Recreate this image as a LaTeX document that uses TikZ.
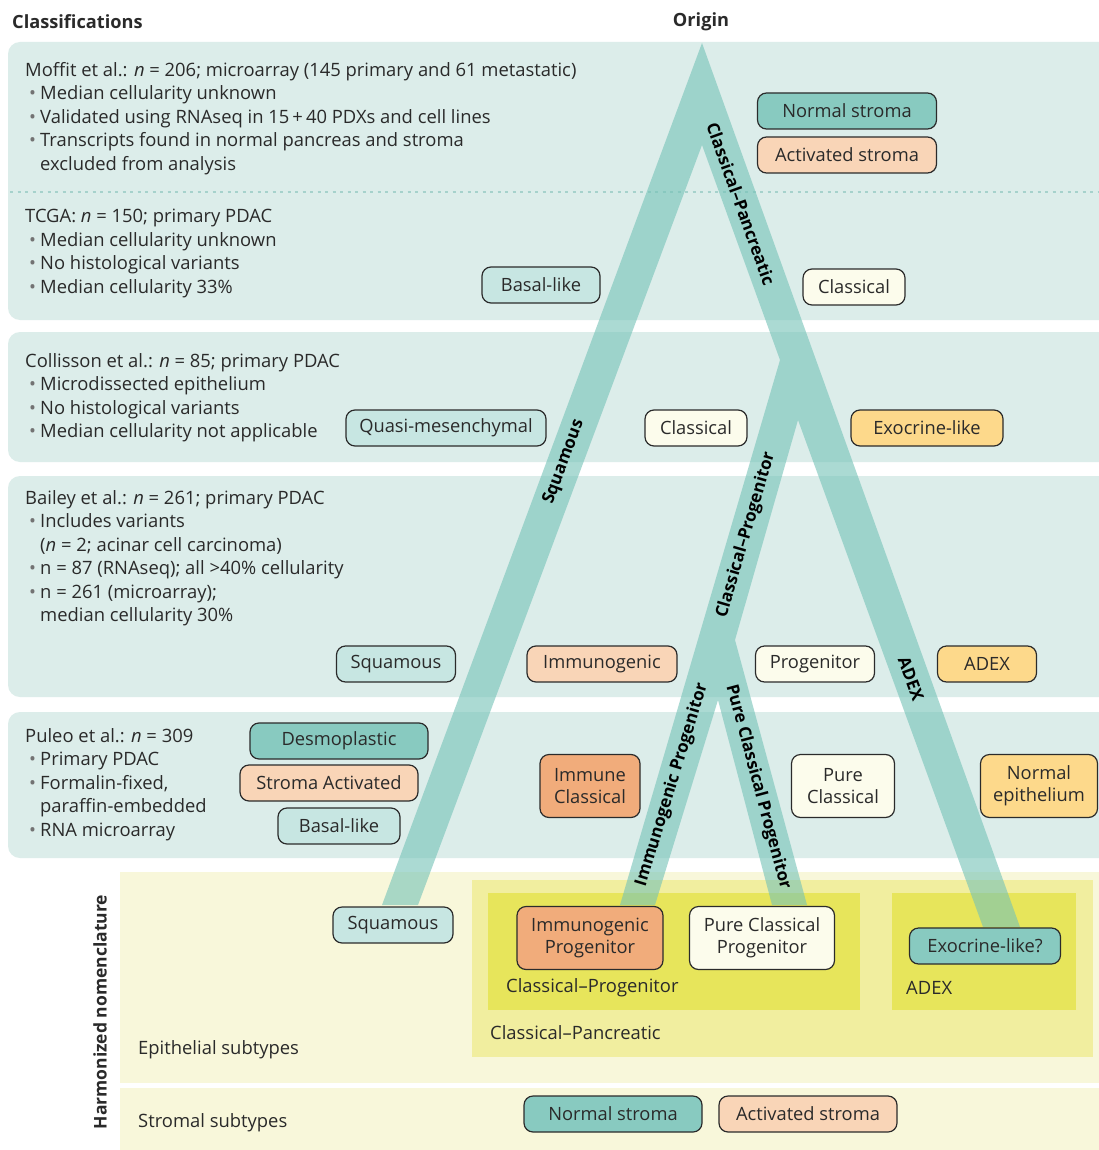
\documentclass[tikz,border=0pt]{standalone}
\usepackage{fontspec}
\setmainfont{Open Sans}
\definecolor{panelc}{HTML}{DCEDEA}
\definecolor{dotc}{HTML}{A6D2CC}
\definecolor{bandc}{HTML}{74C2B7}
\definecolor{cpale}{HTML}{F8F7DA}
\definecolor{cmid}{HTML}{F1EE9F}
\definecolor{cbright}{HTML}{E7E55B}
\definecolor{cteal}{HTML}{88CAC0}
\definecolor{clteal}{HTML}{C7E6E2}
\definecolor{cpeach}{HTML}{F9D5B7}
\definecolor{corange}{HTML}{F1AC7B}
\definecolor{ccream}{HTML}{FCFCEC}
\definecolor{cgold}{HTML}{FDD98B}
\definecolor{txtc}{HTML}{2A2A2A}
\definecolor{linec}{HTML}{2B2B2B}
\newcommand\fs{\fontsize{18.4}{23.5}\selectfont}
\newcommand\bul{\makebox[15pt][c]{\color{black!55}\textbullet}}
\newcommand\ind{\hspace*{15pt}}
\begin{document}
\begin{tikzpicture}[x=1pt,y=-1pt,
  txt/.style={anchor=north west, align=left, inner sep=0pt, font=\fs, text=txtc},
  lab/.style={anchor=west, inner sep=0pt, font=\fs, text=txtc},
  box/.style={draw=linec, line width=1.2pt, rounded corners=9pt, minimum height=36pt,
    inner xsep=4pt, inner ysep=2pt, font=\fontsize{18.3}{22}\selectfont, text=txtc, align=center},
  bandlab/.style={inner sep=0pt, font=\fontsize{17}{18}\selectfont\bfseries, text=black}]
\useasboundingbox (0,0) rectangle (1099,1150);
\fill[white] (0,0) rectangle (1099,1150);
% panels
\begin{scope}
\clip (0,0) rectangle (1099,1150);
\fill[panelc, rounded corners=12pt] (8,42) rectangle (1120,320);
\fill[panelc, rounded corners=12pt] (8,332) rectangle (1120,462);
\fill[panelc, rounded corners=12pt] (8,476) rectangle (1120,697);
\fill[panelc, rounded corners=12pt] (8,712) rectangle (1120,858);
\end{scope}
\draw[dotc, line width=2pt, dash pattern=on 3pt off 4.5pt] (10,192) -- (1099,192);
% harmonized section
\fill[cpale] (120,872) rectangle (1099,1083);
\fill[cpale] (120,1088) rectangle (1099,1150);
\fill[cmid] (472,880) rectangle (1093,1057);
\fill[cbright] (488,893) rectangle (860,1010);
\fill[cbright] (892,893) rectangle (1076,1010);
% tree bands
\fill[bandc, fill opacity=0.6] (702,43) -- (1020,927) -- (983,927) -- (798,420) -- (735,640)
  -- (807,905) -- (772,905) -- (718,700) -- (655,905) -- (620,905) -- (780,360) -- (702,145)
  -- (418,905) -- (382,905) -- cycle;
% band labels
\node[bandlab, rotate=-70.2] (lcp) at (741,204) {Classical–Pancreatic};
\node[bandlab, rotate=69.6] (lsq) at (564,462) {Squamous};
\node[bandlab, rotate=73.6] (lcprog) at (746,535) {Classical–Progenitor};
\node[bandlab, rotate=73] (lip) at (672,785) {Immunogenic Progenitor};
\node[bandlab, rotate=-75] (lpcp) at (758,787) {Pure Classical Progenitor};
\node[bandlab, rotate=-70] (ladex) at (911,679) {ADEX};
% titles
\node[anchor=west, inner sep=0pt, font=\fontsize{18.2}{20}\selectfont\bfseries, text=txtc] (tcl) at (12,22) {Classifications};
\node[inner sep=0pt, font=\fontsize{18.2}{20}\selectfont\bfseries, text=txtc] (tor) at (701,22) {Origin};
% text blocks
\node[txt] (moffit) at (25,62) {Moffit et al.: \textit{n} = 206; microarray (145 primary and 61 metastatic)\\
\bul Median cellularity unknown\\
\bul Validated using RNAseq in 15\,+\,40 PDXs and cell lines\\
\bul Transcripts found in normal pancreas and stroma\\
\ind excluded from analysis};
\node[txt] (tcga) at (25,209) {TCGA: \textit{n} = 150; primary PDAC\\
\bul Median cellularity unknown\\
\bul No histological variants\\
\bul Median cellularity 33\%};
\node[txt] (coll) at (25,353) {Collisson et al.: \textit{n} = 85; primary PDAC\\
\bul Microdissected epithelium\\
\bul No histological variants\\
\bul Median cellularity not applicable};
\node[txt] (bailey) at (25,490) {Bailey et al.: \textit{n} = 261; primary PDAC\\
\bul Includes variants\\
\ind (\textit{n} = 2; acinar cell carcinoma)\\
\bul n = 87 (RNAseq); all >40\% cellularity\\
\bul n = 261 (microarray);\\
\ind median cellularity 30\%};
\node[txt] (puleo) at (25,728) {Puleo et al.: \textit{n} = 309\\
\bul Primary PDAC\\
\bul Formalin-fixed,\\
\ind paraffin-embedded\\
\bul RNA microarray};
% classification boxes
\node[box, fill=cteal, minimum width=179pt] (ns1) at (847,111) {Normal stroma};
\node[box, fill=cpeach, minimum width=179pt] (as1) at (847,155) {Activated stroma};
\node[box, fill=clteal, minimum width=118pt] (bl1) at (541,285) {Basal-like};
\node[box, fill=ccream, minimum width=102pt] (cl1) at (854,287) {Classical};
\node[box, fill=clteal, minimum width=200pt] (qm) at (446,428) {Quasi-mesenchymal};
\node[box, fill=ccream, minimum width=102pt] (cl2) at (696,428) {Classical};
\node[box, fill=cgold, minimum width=152pt] (ex1) at (927,428) {Exocrine-like};
\node[box, fill=clteal, minimum width=119pt] (sq1) at (396,664) {Squamous};
\node[box, fill=cpeach, minimum width=150pt] (im) at (602,664) {Immunogenic};
\node[box, fill=ccream, minimum width=119pt] (pr) at (815,664) {Progenitor};
\node[box, fill=cgold, minimum width=99pt] (ad1) at (987,664) {ADEX};
\node[box, fill=cteal, minimum width=178pt] (ds) at (339,741) {Desmoplastic};
\node[box, fill=cpeach, minimum width=178pt] (sa) at (329,783) {Stroma Activated};
\node[box, fill=clteal, minimum width=122pt] (bl2) at (339,826) {Basal-like};
\node[box, fill=corange, minimum width=100pt, minimum height=63pt] (ic) at (590,786) {Immune\\Classical};
\node[box, fill=ccream, minimum width=103pt, minimum height=63pt] (pc) at (843,786) {Pure\\Classical};
\node[box, fill=cgold, minimum width=117pt, minimum height=63pt] (ne) at (1039,786) {Normal\\epithelium};
% harmonized boxes
\node[box, fill=clteal, minimum width=120pt] (sq2) at (393,925) {Squamous};
\node[box, fill=corange, minimum width=146pt, minimum height=63pt] (ip) at (590,938) {Immunogenic\\Progenitor};
\node[box, fill=ccream, minimum width=145pt, minimum height=63pt] (pcp) at (762,938) {Pure Classical\\Progenitor};
\node[box, fill=cteal, minimum width=151pt] (exq) at (985,946) {Exocrine-like?};
\node[box, fill=cteal, minimum width=178pt] (ns2) at (613,1114) {Normal stroma};
\node[box, fill=cpeach, minimum width=178pt] (as2) at (808,1114) {Activated stroma};
% harmonized labels
\node[lab] (lcprog2) at (506,988) {Classical–Progenitor};
\node[lab] (ladex2) at (906,988) {ADEX};
\node[lab] (lcpan2) at (490,1033) {Classical–Pancreatic};
\node[lab] (lepi) at (138,1050) {Epithelial subtypes};
\node[lab] (lstr) at (138,1123) {Stromal subtypes};
\node[inner sep=0pt, rotate=90, font=\fontsize{17.5}{20}\selectfont\bfseries, text=txtc] (lharm) at (100,1012) {Harmonized nomenclature};
\end{tikzpicture}
\end{document}
